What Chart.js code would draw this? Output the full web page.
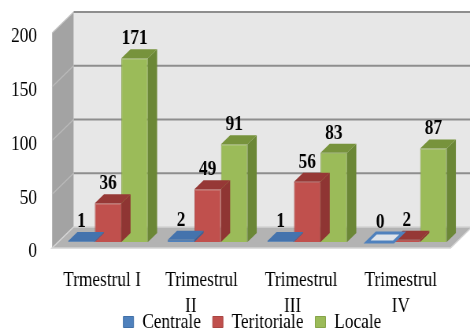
<!DOCTYPE html>
<html>
<head>
<meta charset="utf-8">
<script src="https://cdn.jsdelivr.net/npm/chart.js@4/dist/chart.umd.min.js"></script>
<style>
  html, body { margin: 0; padding: 0; background: #ffffff; }
  canvas { display: block; }
</style>
</head>
<body>
<!-- drawing surface is wider than its box, giving the tall, narrow serif lettering -->
<canvas id="chart" width="597" height="331" style="width:470px;height:331px"></canvas>
<script>
// ---- data ----
const categories = [
  'Trmestrul I',
  ['Trimestrul', 'II\u00a0\u00a0\u00a0\u00a0\u00a0'],
  ['Trimestrul', 'III\u00a0\u00a0\u00a0\u00a0'],
  ['Trimestrul', 'IV']
];
const seriesNames = ['Centrale', 'Teritoriale', 'Locale'];
const centrale = [1, 2, 1, 0];
const teritoriale = [36, 49, 56, 2];
const locale = [171, 91, 83, 87];
const yTicks = [0, 50, 100, 150, 200];

// ---- 3D look ----
const DX = 1.3;          // horizontal run per pixel of depth
const BAR_DEPTH = 9;     // depth of each column
const FLOOR_FRONT = 6;   // floor edge sits in front of the column faces
const WALL_BACK = 15;    // back wall sits behind the column faces

const faces = [
  { front: '#4f81bd', top: '#4473ad', side: '#3b6496', edge: '#4170a8' },
  { front: '#c0504d', top: '#963836', side: '#8f3533', edge: '#a94542' },
  { front: '#9bbb59', top: '#77933c', side: '#6b8736', edge: '#86a44a' }
];

const FONT_FAMILY = '"Liberation Serif", "Times New Roman", serif';

function poly(ctx, pts, fill, stroke, lw) {
  ctx.beginPath();
  ctx.moveTo(pts[0][0], pts[0][1]);
  for (let i = 1; i < pts.length; i++) ctx.lineTo(pts[i][0], pts[i][1]);
  ctx.closePath();
  if (fill) { ctx.fillStyle = fill; ctx.fill(); }
  if (stroke) { ctx.strokeStyle = stroke; ctx.lineWidth = lw || 1; ctx.stroke(); }
}

function seg(ctx, a, b, color, lw) {
  ctx.beginPath();
  ctx.moveTo(a[0], a[1]);
  ctx.lineTo(b[0], b[1]);
  ctx.strokeStyle = color;
  ctx.lineWidth = lw;
  ctx.stroke();
}

const scene3d = {
  id: 'scene3d',
  beforeDatasetsDraw(chart) {
    const { ctx, chartArea: a, scales: { y } } = chart;
    const fx0 = a.left - FLOOR_FRONT * DX, fx1 = a.right - FLOOR_FRONT * DX;
    const bx0 = a.left + WALL_BACK * DX, bx1 = a.right + WALL_BACK * DX;
    const yf = v => y.getPixelForValue(v) + FLOOR_FRONT;
    const yb = v => y.getPixelForValue(v) - WALL_BACK;
    const top = y.max;
    ctx.save();
    // back wall
    poly(ctx, [[bx0, yb(top)], [bx1, yb(top)], [bx1, yb(0)], [bx0, yb(0)]], '#e7e7e7');
    // side wall
    poly(ctx, [[fx0, yf(0)], [fx0, yf(top)], [bx0, yb(top)], [bx0, yb(0)]], '#a3a3a3');
    seg(ctx, [fx0, yf(top)], [bx0, yb(top)], '#c4c4c4', 1.2);
    // floor
    poly(ctx, [[fx0, yf(0)], [fx1, yf(0)], [bx1, yb(0)], [bx0, yb(0)]], '#b3b3b3', '#d4d4d4', 1.5);
    // grid lines on the walls
    yTicks.forEach(v => {
      if (v === 0) return;
      seg(ctx, [bx0, yb(v)], [bx1, yb(v)], '#8e8e8e', 2);
      if (v !== top) seg(ctx, [fx0, yf(v)], [bx0, yb(v)], '#b9b9b9', 1.5);
    });
    ctx.restore();
  },
  afterDatasetDraw(chart, args) {
    const { ctx } = chart;
    const f = faces[args.index];
    const values = chart.data.datasets[args.index].data;
    const dx = BAR_DEPTH * DX, dy = BAR_DEPTH;
    ctx.save();
    args.meta.data.forEach((el, i) => {
      const { x, y, base, width } = el.getProps(['x', 'y', 'base', 'width'], true);
      const l = x - width / 2, r = x + width / 2;
      if (values[i] === 0) {
        poly(ctx, [[l, base], [r, base], [r + dx, base - dy], [l + dx, base - dy]], '#dfe4ea', f.front, 3);
        return;
      }
      poly(ctx, [[r, y], [r + dx, y - dy], [r + dx, base - dy], [r, base]], f.side);
      poly(ctx, [[l, y], [r, y], [r + dx, y - dy], [l + dx, y - dy]], f.top);
    });
    ctx.restore();
  },
  afterDatasetsDraw(chart) {
    const { ctx } = chart;
    ctx.save();
    ctx.font = 'bold 22px ' + FONT_FAMILY;
    ctx.fillStyle = '#000000';
    ctx.textAlign = 'center';
    ctx.textBaseline = 'alphabetic';
    chart.data.datasets.forEach((ds, di) => {
      chart.getDatasetMeta(di).data.forEach((el, i) => {
        const { x, y } = el.getProps(['x', 'y'], true);
        ctx.fillText(String(ds.data[i]), x, y - BAR_DEPTH - 5);
      });
    });
    ctx.restore();
  }
};

const values = [centrale, teritoriale, locale];
const tickFont = { family: FONT_FAMILY, size: 22, lineHeight: 1.15 };

new Chart(document.getElementById('chart'), {
  type: 'bar',
  data: {
    labels: categories,
    datasets: seriesNames.map((name, i) => ({
      label: name,
      data: values[i],
      backgroundColor: faces[i].front,
      borderColor: faces[i].edge,
      borderWidth: 1,
      categoryPercentage: 0.8,
      barPercentage: 1.0
    }))
  },
  options: {
    responsive: false,
    animation: false,
    devicePixelRatio: 1,
    layout: { padding: { left: 61, right: 17, top: 27, bottom: 0 } },
    plugins: {
      legend: {
        position: 'bottom',
        maxHeight: 35,
        labels: {
          font: { family: FONT_FAMILY, size: 22 },
          color: '#000000',
          boxWidth: 13,
          boxHeight: 11,
          padding: 15
        }
      },
      tooltip: { enabled: false }
    },
    scales: {
      x: {
        grid: { display: false, drawTicks: false },
        border: { display: false },
        ticks: {
          font: tickFont,
          color: '#000000',
          // labels hang below the axis box (two-line categories reach into the legend band)
          mirror: true,
          padding: -51.3,
          labelOffset: -7.6,
          maxRotation: 0,
          autoSkip: false
        },
        afterFit(scale) { scale.height = 54; }
      },
      y: {
        min: 0,
        max: 200,
        grid: { display: false, drawTicks: false },
        border: { display: false },
        afterBuildTicks(scale) { scale.ticks = yTicks.map(v => ({ value: v })); },
        ticks: {
          font: { family: FONT_FAMILY, size: 22 },
          color: '#000000',
          // right-aligned numbers set to the left of the side wall
          mirror: true,
          crossAlign: 'far',
          padding: -60,
          labelOffset: 9.5
        },
        afterFit(scale) { scale.width = 13; }
      }
    }
  },
  plugins: [scene3d]
});
</script>
</body>
</html>
